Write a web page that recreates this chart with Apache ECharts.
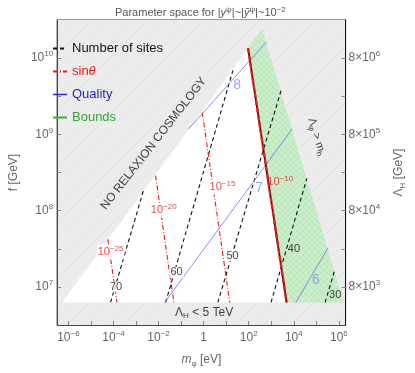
<!DOCTYPE html>
<html>
<head>
<meta charset="utf-8">
<script src="https://cdn.jsdelivr.net/npm/echarts@6/dist/echarts.min.js"></script>
<style>
  html, body { margin: 0; padding: 0; background: #fff; }
  #chart { width: 415px; height: 373px; }
</style>
</head>
<body>
<div id="chart"></div>
<script>
// 所有坐标都是对数值: x = log10(m_phi / eV), y = log10(f / GeV)
const xRange = [-6.5, 6.3];
const yRange = [6.5, 10.5];
const xTickVals = [-6, -5, -4, -3, -2, -1, 0, 1, 2, 3, 4, 5, 6];
const xLabelVals = [-6, -4, -2, 0, 2, 4, 6];
const yTickVals = [7, 7.5, 8, 8.5, 9, 9.5, 10];
const yLabelVals = [7, 8, 9, 10];
const lambdaShift = -4; // Λ_H = 8×10^(n-4) GeV 对应 f = 10^n GeV

const fFloor = 6.796; // Λ_H = 5 TeV
const noRelaxEdge = [[-6.285, fFloor], [2.6, 10.38]];
const higgsEdge = [[2.6, 10.38], [6.205, fFloor]];
const boundEdge = [[1.97, 10.13], [3.683, fFloor]]; // sinθ = 1e-10

// Number of sites
const siteValues = ['70', '60', '50', '40', '30'];
const siteLines = [
  [[-4.129, fFloor], [-2.664, 8.27]],
  [[-1.688, fFloor], [1.3, 9.84]],
  [[0.631, fFloor], [3.439, 9.578]],
  [[2.991, fFloor], [4.578, 8.422]],
  [[5.391, fFloor], [5.798, 7.203]]
];
const siteLabelPos = [[-3.884, 7.0], [-1.199, 7.19], [1.282, 7.406], [4.008, 7.495], [5.839, 6.898]];

// sinθ
const sinExponents = ['-25', '-20', '-15', '-10'];
const sinLines = [
  [[-4.251, 7.622], [-3.844, fFloor]],
  [[-2.135, 8.46], [-1.321, fFloor]],
  [[-0.06, 9.286], [1.16, fFloor]]
];
const sinLabelPos = [[-4.13, 7.457], [-1.769, 8.003], [0.835, 8.308], [3.398, 8.371]];

// Quality
const qualityValues = ['8', '7', '6'];
const qualityLines = [
  [[-0.67, 9.07], [2.788, 10.213]],
  [[-1.728, fFloor], [3.927, 9.07]],
  [[4.089, fFloor], [5.513, 7.508]]
];
const qualityLabelPos = [[1.486, 9.641], [2.462, 8.295], [4.985, 7.089]];

// 区域文字
const regionTexts = ['NO RELAXION COSMOLOGY', 'Λ{sub|φ} > m{sub|h}', 'Λ{sub|H} < 5 TeV'];
const regionTextPos = [[-2.216, 8.88], [5.02, 8.968], [0.02, 6.66]];
const regionTextAngle = [52, -73, 0];

const chart = echarts.init(document.getElementById('chart'));

// 斜线纹理
function hatch(bg, line, size, cross) {
  const c = document.createElement('canvas');
  c.width = size; c.height = size;
  const g = c.getContext('2d');
  g.fillStyle = bg; g.fillRect(0, 0, size, size);
  g.strokeStyle = line; g.lineWidth = 1;
  g.beginPath();
  g.moveTo(0, size); g.lineTo(size, 0);
  if (cross) { g.moveTo(0, 0); g.lineTo(size, size); }
  g.stroke();
  return { image: c, repeat: 'repeat' };
}
const grayFill = hatch('#ececec', '#e3e3e3', 14, false);
const greenFill = hatch('#caedca', '#bde6bd', 6, true);

const rich = {
  sup: { fontSize: 8, lineHeight: 10, verticalAlign: 'top' },
  sub: { fontSize: 8, lineHeight: 10, verticalAlign: 'bottom' },
  i: { fontStyle: 'italic' }
};
const sup = e => '{sup|' + String(e).replace('-', '−') + '}';

// 判断点是否在 sinθ=1e-10 边界右侧（绿色区域）
function inBounds(p) {
  const [a, b] = boundEdge;
  const xb = a[0] + (p[1] - a[1]) * (b[0] - a[0]) / (b[1] - a[1]);
  return p[0] > xb;
}

function polygon(points, fill, z) {
  return {
    type: 'custom', silent: true, z: z, clip: true,
    data: [[xRange[0], yRange[0]]],
    renderItem: (params, api) => ({
      type: 'polygon',
      shape: { points: points.map(p => api.coord(p)) },
      style: { fill: fill }
    })
  };
}

function lineSeries(name, seg, lineStyle, z) {
  return {
    type: 'line', name: name, data: seg, symbol: 'none', silent: true,
    z: z || 3, lineStyle: lineStyle, itemStyle: { color: lineStyle.color }
  };
}

const siteStyle = { color: '#111', width: 1.1, type: [4, 3] };
const sinStyle = { color: '#e81a1a', width: 1.1, type: [5, 2, 1, 2] };
const qualityStyle = { color: '#6f6ff0', width: 0.8 };

const series = [];
series.push(polygon([[xRange[0], yRange[0]], [xRange[1], yRange[0]], [xRange[1], yRange[1]], [xRange[0], yRange[1]]], grayFill, 0));
series.push(polygon([noRelaxEdge[0], boundEdge[0], boundEdge[1]], '#ffffff', 1));
series.push(polygon([boundEdge[0], higgsEdge[0], higgsEdge[1], boundEdge[1]], greenFill, 1));

siteLines.forEach(seg => series.push(lineSeries('Number of sites', seg, siteStyle)));
sinLines.forEach(seg => series.push(lineSeries('sinθ', seg, sinStyle)));
qualityLines.forEach(seg => series.push(lineSeries('Quality', seg, qualityStyle)));
// 边界线: 深色底线 + 红色虚线
series.push(lineSeries('edge', boundEdge, { color: '#3a1414', width: 1.8 }, 4));
series.push(lineSeries('edge', boundEdge, { color: '#e8201a', width: 2.4, type: [5, 2.5] }, 4));
series.push(lineSeries('Bounds', [], { color: '#33b533', width: 1.5 }));

// 标签
series.push({
  type: 'scatter', symbolSize: 0, silent: true, z: 6,
  data: siteValues.map((v, i) => ({
    value: siteLabelPos[i], name: v,
    label: { backgroundColor: inBounds(siteLabelPos[i]) ? 'transparent' : '#fff' }
  })),
  label: { show: true, position: 'inside', formatter: '{b}', color: '#111', fontSize: 11, padding: [0, 1] }
});
series.push({
  type: 'scatter', symbolSize: 0, silent: true, z: 6,
  data: sinExponents.map((v, i) => ({
    value: sinLabelPos[i], name: v,
    label: { backgroundColor: inBounds(sinLabelPos[i]) ? 'transparent' : '#fff' }
  })),
  label: {
    show: true, position: 'inside', color: '#e81a1a', fontSize: 11, lineHeight: 15, padding: [0, 1],
    formatter: p => '10' + sup(p.name),
    rich: { sup: { fontSize: 8, lineHeight: 9, verticalAlign: 'top', color: '#e81a1a' } }
  }
});
series.push({
  type: 'scatter', symbolSize: 0, silent: true, z: 6,
  data: qualityValues.map((v, i) => ({ value: qualityLabelPos[i], name: v })),
  label: { show: true, position: 'inside', formatter: '{b}', color: '#8190e6', fontSize: 14 }
});
series.push({
  type: 'scatter', symbolSize: 0, silent: true, z: 6,
  data: regionTexts.map((t, i) => ({
    value: regionTextPos[i], name: t,
    label: { rotate: regionTextAngle[i], fontSize: i === 1 ? 11 : 12 }
  })),
  label: {
    show: true, position: 'inside', formatter: '{b}', color: '#111', lineHeight: 14,
    rich: { sub: { fontSize: 8, lineHeight: 8, verticalAlign: 'bottom', color: '#111' } }
  }
});

const axisLabelStyle = { color: '#666', fontSize: 12, lineHeight: 16, rich: rich };

const option = {
  animation: false,
  textStyle: { fontFamily: 'Liberation Sans, Arial, sans-serif' },
  title: {
    text: 'Parameter space for |{i|y}' + sup('ψ') + '|~|{i|ỹ}' + sup('ψ') + '|~10' + sup(-2),
    left: 110, top: 1,
    textStyle: { fontSize: 11, fontWeight: 'normal', color: '#555', lineHeight: 14, rich: rich }
  },
  grid: { left: 45, right: 56, top: 20, bottom: 38, show: true, borderColor: '#333', borderWidth: 1, backgroundColor: 'transparent' },
  legend: {
    left: 52, top: 42, padding: 0, orient: 'vertical', itemWidth: 14, itemHeight: 10, itemGap: 10,
    itemStyle: { opacity: 0 },
    textStyle: { fontSize: 13, rich: { i: { fontStyle: 'italic', fontSize: 13, color: '#e81a1a' } } },
    formatter: n => n === 'sinθ' ? 'sin{i|θ}' : n,
    data: [
      { name: 'Number of sites', textStyle: { color: '#111' } },
      { name: 'sinθ', textStyle: { color: '#e81a1a' } },
      { name: 'Quality', textStyle: { color: '#1f1fcc' }, lineStyle: { color: '#2424d4', width: 1.5 } },
      { name: 'Bounds', textStyle: { color: '#2ea82e' } }
    ],
    selectedMode: false
  },
  xAxis: {
    type: 'value', min: xRange[0], max: xRange[1],
    name: '{i|m}{sub|φ} [eV]', nameLocation: 'middle', nameGap: 27,
    nameTextStyle: { color: '#666', fontSize: 12, lineHeight: 16, rich: rich },
    axisLine: { show: true, onZero: false, lineStyle: { color: '#444' } },
    axisTick: { show: true, inside: true, length: 4, customValues: xTickVals, lineStyle: { color: '#888' } },
    axisLabel: Object.assign({ customValues: xLabelVals, margin: 5, formatter: v => v === 0 ? '1' : '10' + sup(v) }, axisLabelStyle),
    splitLine: { show: false }
  },
  yAxis: [
    {
      type: 'value', min: yRange[0], max: yRange[1], position: 'left',
      name: 'f [GeV]', nameLocation: 'middle', nameGap: 34, nameRotate: 90,
      nameTextStyle: { color: '#666', fontSize: 12 },
      axisLine: { show: true, onZero: false, lineStyle: { color: '#444' } },
      axisTick: { show: true, inside: true, length: 4, customValues: yTickVals, lineStyle: { color: '#888' } },
      axisLabel: Object.assign({ customValues: yLabelVals, margin: 4, formatter: v => '10' + sup(v) }, axisLabelStyle),
      splitLine: { show: false }
    },
    {
      type: 'value', min: yRange[0], max: yRange[1], position: 'right',
      name: 'Λ{sub|H} [GeV]', nameLocation: 'middle', nameGap: 44, nameRotate: 90,
      nameTextStyle: { color: '#666', fontSize: 12, lineHeight: 16, rich: rich },
      axisLine: { show: true, onZero: false, lineStyle: { color: '#111' } },
      axisTick: { show: true, inside: true, length: 4, customValues: yTickVals, lineStyle: { color: '#888' } },
      axisLabel: Object.assign({ customValues: yLabelVals, margin: 3, formatter: v => '8×10' + sup(v + lambdaShift) }, axisLabelStyle),
      splitLine: { show: false }
    }
  ],
  series: series
};

chart.setOption(option);
</script>
</body>
</html>
